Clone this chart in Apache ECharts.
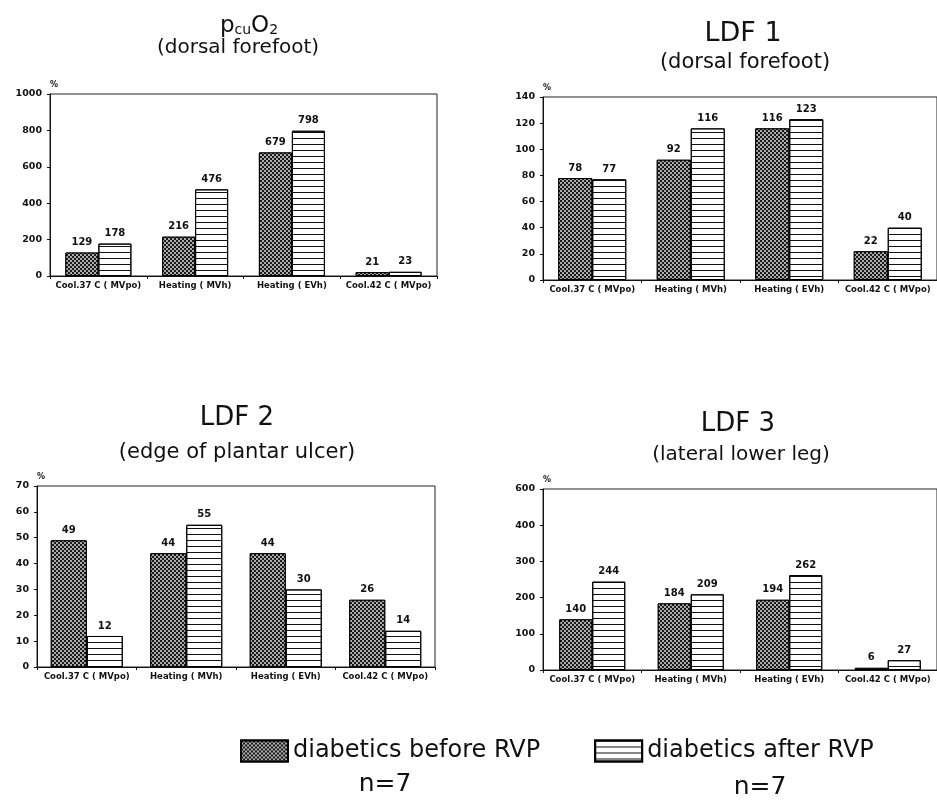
<!DOCTYPE html>
<html>
<head>
<meta charset="utf-8">
<script src="https://cdn.jsdelivr.net/npm/echarts@6/dist/echarts.min.js"></script>
<style>html,body{margin:0;padding:0;background:#fff}#c{width:937px;height:801px}</style>
</head>
<body>
<div id="c"></div>
<script>
// ---- data ----
const categories = ['Cool.37 C ( MVpo)', 'Heating ( MVh)', 'Heating ( EVh)', 'Cool.42 C ( MVpo)'];
const seriesNames = ['diabetics before RVP', 'diabetics after RVP'];
const pcuBefore = [129, 216, 679, 21];
const pcuAfter = [178, 476, 798, 23];
const ldf1Before = [78, 92, 116, 22];
const ldf1After = [77, 116, 123, 40];
const ldf2Before = [49, 44, 44, 26];
const ldf2After = [12, 55, 30, 14];
const ldf3Before = [140, 184, 194, 6];
const ldf3After = [244, 209, 262, 27];
const ldf3TickLabels = ['0', '100', '200', '300', '400', '600'];
const groupLabel = 'n=7';

// ---- layout ----
const FONT = 'DejaVu Sans';
const panels = [
  {grid: {left: 50, right: 500, top: 94, bottom: 525}, max: 1000, interval: 200, bw: 33, data: [pcuBefore, pcuAfter]},
  {grid: {left: 543, right: -1, top: 97, bottom: 521}, max: 140, interval: 20, bw: 34, data: [ldf1Before, ldf1After]},
  {grid: {left: 37, right: 502, top: 486, bottom: 134}, max: 70, interval: 10, bw: 36, data: [ldf2Before, ldf2After]},
  {grid: {left: 543, right: -1, top: 489, bottom: 131}, max: 500, interval: 100, bw: 33, data: [ldf3Before, ldf3After], labels: ldf3TickLabels}
];

const checkerStyle = {
  color: '#1a1a1a', borderColor: '#000', borderWidth: 1,
  decal: {symbol: 'rect', symbolSize: 0.85, color: '#ffffff', dashArrayX: [[2, 2], [0, 2, 2, 0]], dashArrayY: [2, 0], rotation: 0}
};
const stripeStyle = {
  color: '#ffffff', borderColor: '#000', borderWidth: 1,
  decal: {symbol: 'rect', symbolSize: 1, color: '#111111', dashArrayX: [1, 0], dashArrayY: [1, 5], rotation: 0}
};
const styles = [checkerStyle, stripeStyle];

const grid = [], xAxis = [], yAxis = [], series = [];
panels.forEach((p, i) => {
  grid.push(Object.assign({show: true, borderColor: '#222', borderWidth: 1, backgroundColor: 'transparent'}, p.grid));
  xAxis.push({
    type: 'category', gridIndex: i, data: categories,
    axisLine: {lineStyle: {color: '#111', width: 1}},
    axisTick: {show: true, length: 3, lineStyle: {color: '#111'}},
    axisLabel: {fontFamily: FONT, fontSize: 8.5, fontWeight: 'bold', color: '#111', margin: 5, interval: 0}
  });
  yAxis.push({
    type: 'value', gridIndex: i, min: 0, max: p.max, interval: p.interval,
    name: '%', nameLocation: 'end', nameGap: 5,
    nameTextStyle: {fontFamily: FONT, fontSize: 8, fontWeight: 'bold', color: '#111', align: 'left'},
    splitLine: {show: false},
    axisLine: {show: true, lineStyle: {color: '#111', width: 1}},
    axisTick: {show: true, length: 3, lineStyle: {color: '#111'}},
    axisLabel: {
      fontFamily: FONT, fontSize: 9.5, fontWeight: 'bold', color: '#111', margin: 8,
      formatter: p.labels ? (v) => p.labels[Math.round(v / p.interval)] : (v) => String(v)
    }
  });
  p.data.forEach((vals, k) => {
    series.push({
      type: 'bar', name: seriesNames[k], xAxisIndex: i, yAxisIndex: i,
      data: vals, barWidth: p.bw, barGap: '0%',
      itemStyle: styles[k],
      label: {show: true, position: 'top', distance: 5, fontFamily: FONT, fontSize: 10, fontWeight: 'bold', color: '#111'},
      emphasis: {disabled: true}
    });
  });
});

const titleText = (x, y, text, size, extra) => ({
  type: 'text', x: x, y: y, silent: true,
  style: Object.assign({text: text, fill: '#111', font: size + 'px "' + FONT + '"', textAlign: 'center', textVerticalAlign: 'middle'}, extra || {})
});

const graphic = [
  titleText(249, 26, '{p|p}{s|cu}{p|O}{s|2}', 23, {rich: {p: {fontSize: 23, fontFamily: FONT, fill: '#111'}, s: {fontSize: 14, fontFamily: FONT, fill: '#111', verticalAlign: 'bottom'}}}),
  titleText(238, 48, '(dorsal forefoot)', 20),
  titleText(743, 34, 'LDF 1', 27),
  titleText(745, 63, '(dorsal forefoot)', 21),
  titleText(237, 418, 'LDF 2', 26),
  titleText(237, 453, '(edge of plantar ulcer)', 21),
  titleText(738, 424, 'LDF 3', 26),
  titleText(741, 455, '(lateral lower leg)', 20),
  titleText(385, 784, groupLabel, 25),
  titleText(760, 787, groupLabel, 25)
];

const chart = echarts.init(document.getElementById('c'), null, {renderer: 'canvas'});
chart.setOption({
  animation: false,
  backgroundColor: '#fff',
  legend: {
    data: seriesNames, left: 240, top: 739, padding: 0,
    icon: 'rect', itemWidth: 47, itemHeight: 21, itemGap: 54,
    textStyle: {fontFamily: FONT, fontSize: 24, color: '#111'},
    selectedMode: false
  },
  grid: grid, xAxis: xAxis, yAxis: yAxis, series: series, graphic: graphic
});
</script>
</body>
</html>
